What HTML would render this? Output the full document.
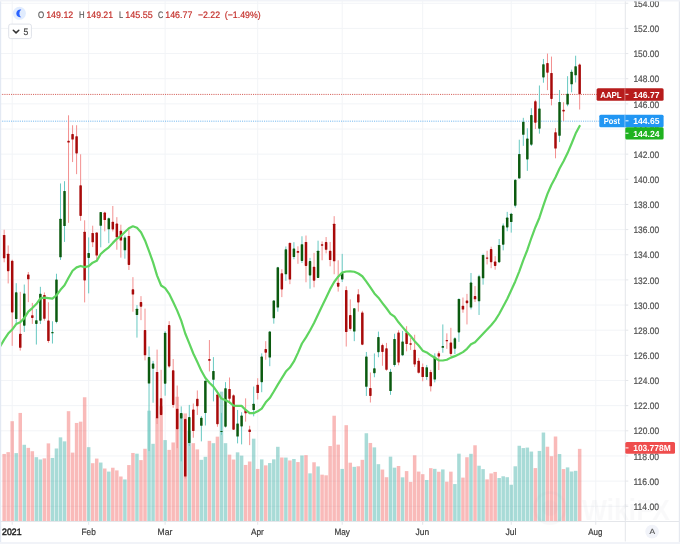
<!DOCTYPE html>
<html><head><meta charset="utf-8"><title>AAPL chart</title>
<style>html,body{margin:0;padding:0;background:#fff}body{width:680px;height:544px;overflow:hidden}svg{will-change:transform}</style></head>
<body>
<svg width="680" height="544" viewBox="0 0 680 544" style="display:block;font-family:'Liberation Sans', 'DejaVu Sans', sans-serif">
<rect width="680" height="544" fill="#ffffff"/>
<g stroke="#f2f4f7" stroke-width="1">
<line x1="0" y1="506.25" x2="625.3" y2="506.25"/>
<line x1="0" y1="481.10" x2="625.3" y2="481.10"/>
<line x1="0" y1="455.95" x2="625.3" y2="455.95"/>
<line x1="0" y1="430.80" x2="625.3" y2="430.80"/>
<line x1="0" y1="405.65" x2="625.3" y2="405.65"/>
<line x1="0" y1="380.50" x2="625.3" y2="380.50"/>
<line x1="0" y1="355.35" x2="625.3" y2="355.35"/>
<line x1="0" y1="330.20" x2="625.3" y2="330.20"/>
<line x1="0" y1="305.05" x2="625.3" y2="305.05"/>
<line x1="0" y1="279.90" x2="625.3" y2="279.90"/>
<line x1="0" y1="254.75" x2="625.3" y2="254.75"/>
<line x1="0" y1="229.60" x2="625.3" y2="229.60"/>
<line x1="0" y1="204.45" x2="625.3" y2="204.45"/>
<line x1="0" y1="179.30" x2="625.3" y2="179.30"/>
<line x1="0" y1="154.15" x2="625.3" y2="154.15"/>
<line x1="0" y1="129.00" x2="625.3" y2="129.00"/>
<line x1="0" y1="103.85" x2="625.3" y2="103.85"/>
<line x1="0" y1="78.70" x2="625.3" y2="78.70"/>
<line x1="0" y1="53.55" x2="625.3" y2="53.55"/>
<line x1="0" y1="28.40" x2="625.3" y2="28.40"/>
<line x1="0" y1="3.25" x2="625.3" y2="3.25"/>
<line x1="12.20" y1="0" x2="12.20" y2="521.5"/>
<line x1="88.67" y1="0" x2="88.67" y2="521.5"/>
<line x1="165.13" y1="0" x2="165.13" y2="521.5"/>
<line x1="257.69" y1="0" x2="257.69" y2="521.5"/>
<line x1="342.21" y1="0" x2="342.21" y2="521.5"/>
<line x1="422.70" y1="0" x2="422.70" y2="521.5"/>
<line x1="511.24" y1="0" x2="511.24" y2="521.5"/>
<line x1="595.75" y1="0" x2="595.75" y2="521.5"/>
</g>
<g>
<rect x="2.40" y="453.95" width="3.5" height="67.55" fill="rgba(239,83,80,0.4)"/>
<rect x="6.43" y="452.13" width="3.5" height="69.37" fill="rgba(239,83,80,0.4)"/>
<rect x="10.45" y="421.19" width="3.5" height="100.31" fill="rgba(239,83,80,0.4)"/>
<rect x="14.47" y="453.11" width="3.5" height="68.39" fill="rgba(38,166,154,0.4)"/>
<rect x="18.50" y="412.93" width="3.5" height="108.57" fill="rgba(239,83,80,0.4)"/>
<rect x="22.52" y="444.78" width="3.5" height="76.72" fill="rgba(38,166,154,0.4)"/>
<rect x="26.55" y="447.86" width="3.5" height="73.64" fill="rgba(239,83,80,0.4)"/>
<rect x="30.57" y="451.22" width="3.5" height="70.28" fill="rgba(239,83,80,0.4)"/>
<rect x="34.60" y="457.17" width="3.5" height="64.33" fill="rgba(38,166,154,0.4)"/>
<rect x="38.62" y="459.48" width="3.5" height="62.02" fill="rgba(38,166,154,0.4)"/>
<rect x="42.65" y="458.36" width="3.5" height="63.14" fill="rgba(239,83,80,0.4)"/>
<rect x="46.67" y="443.38" width="3.5" height="78.12" fill="rgba(239,83,80,0.4)"/>
<rect x="50.69" y="457.94" width="3.5" height="63.56" fill="rgba(38,166,154,0.4)"/>
<rect x="54.72" y="448.49" width="3.5" height="73.01" fill="rgba(38,166,154,0.4)"/>
<rect x="58.74" y="437.36" width="3.5" height="84.14" fill="rgba(38,166,154,0.4)"/>
<rect x="62.77" y="441.35" width="3.5" height="80.15" fill="rgba(38,166,154,0.4)"/>
<rect x="66.79" y="411.18" width="3.5" height="110.32" fill="rgba(239,83,80,0.4)"/>
<rect x="70.82" y="452.62" width="3.5" height="68.88" fill="rgba(239,83,80,0.4)"/>
<rect x="74.84" y="422.94" width="3.5" height="98.56" fill="rgba(239,83,80,0.4)"/>
<rect x="78.87" y="421.68" width="3.5" height="99.82" fill="rgba(239,83,80,0.4)"/>
<rect x="82.89" y="397.25" width="3.5" height="124.25" fill="rgba(239,83,80,0.4)"/>
<rect x="86.92" y="447.16" width="3.5" height="74.34" fill="rgba(38,166,154,0.4)"/>
<rect x="90.94" y="463.19" width="3.5" height="58.31" fill="rgba(239,83,80,0.4)"/>
<rect x="94.96" y="458.57" width="3.5" height="62.93" fill="rgba(239,83,80,0.4)"/>
<rect x="98.99" y="462.56" width="3.5" height="58.94" fill="rgba(38,166,154,0.4)"/>
<rect x="103.01" y="468.51" width="3.5" height="52.99" fill="rgba(239,83,80,0.4)"/>
<rect x="107.04" y="471.59" width="3.5" height="49.91" fill="rgba(38,166,154,0.4)"/>
<rect x="111.06" y="467.74" width="3.5" height="53.76" fill="rgba(239,83,80,0.4)"/>
<rect x="115.09" y="470.40" width="3.5" height="51.10" fill="rgba(239,83,80,0.4)"/>
<rect x="119.11" y="476.49" width="3.5" height="45.01" fill="rgba(239,83,80,0.4)"/>
<rect x="123.14" y="479.43" width="3.5" height="42.07" fill="rgba(38,166,154,0.4)"/>
<rect x="127.16" y="465.08" width="3.5" height="56.42" fill="rgba(239,83,80,0.4)"/>
<rect x="131.18" y="452.97" width="3.5" height="68.53" fill="rgba(239,83,80,0.4)"/>
<rect x="135.21" y="453.67" width="3.5" height="67.83" fill="rgba(38,166,154,0.4)"/>
<rect x="139.23" y="460.11" width="3.5" height="61.39" fill="rgba(239,83,80,0.4)"/>
<rect x="143.26" y="448.77" width="3.5" height="72.73" fill="rgba(239,83,80,0.4)"/>
<rect x="147.28" y="410.69" width="3.5" height="110.81" fill="rgba(38,166,154,0.4)"/>
<rect x="151.31" y="443.80" width="3.5" height="77.70" fill="rgba(38,166,154,0.4)"/>
<rect x="155.33" y="417.76" width="3.5" height="103.74" fill="rgba(239,83,80,0.4)"/>
<rect x="159.36" y="406.28" width="3.5" height="115.22" fill="rgba(239,83,80,0.4)"/>
<rect x="163.38" y="440.09" width="3.5" height="81.41" fill="rgba(38,166,154,0.4)"/>
<rect x="167.41" y="449.89" width="3.5" height="71.61" fill="rgba(239,83,80,0.4)"/>
<rect x="171.43" y="442.47" width="3.5" height="79.03" fill="rgba(239,83,80,0.4)"/>
<rect x="175.45" y="396.76" width="3.5" height="124.74" fill="rgba(239,83,80,0.4)"/>
<rect x="179.48" y="413.84" width="3.5" height="107.66" fill="rgba(38,166,154,0.4)"/>
<rect x="183.50" y="413.42" width="3.5" height="108.08" fill="rgba(239,83,80,0.4)"/>
<rect x="187.53" y="430.85" width="3.5" height="90.65" fill="rgba(38,166,154,0.4)"/>
<rect x="191.55" y="443.17" width="3.5" height="78.33" fill="rgba(239,83,80,0.4)"/>
<rect x="195.58" y="449.40" width="3.5" height="72.10" fill="rgba(239,83,80,0.4)"/>
<rect x="199.60" y="459.83" width="3.5" height="61.67" fill="rgba(38,166,154,0.4)"/>
<rect x="203.63" y="456.82" width="3.5" height="64.68" fill="rgba(38,166,154,0.4)"/>
<rect x="207.65" y="440.86" width="3.5" height="80.64" fill="rgba(239,83,80,0.4)"/>
<rect x="211.67" y="443.17" width="3.5" height="78.33" fill="rgba(38,166,154,0.4)"/>
<rect x="215.70" y="436.66" width="3.5" height="84.84" fill="rgba(239,83,80,0.4)"/>
<rect x="219.72" y="391.65" width="3.5" height="129.85" fill="rgba(38,166,154,0.4)"/>
<rect x="223.75" y="443.17" width="3.5" height="78.33" fill="rgba(38,166,154,0.4)"/>
<rect x="227.77" y="454.65" width="3.5" height="66.85" fill="rgba(239,83,80,0.4)"/>
<rect x="231.80" y="459.55" width="3.5" height="61.95" fill="rgba(239,83,80,0.4)"/>
<rect x="235.82" y="452.34" width="3.5" height="69.16" fill="rgba(38,166,154,0.4)"/>
<rect x="239.85" y="455.63" width="3.5" height="65.87" fill="rgba(38,166,154,0.4)"/>
<rect x="243.87" y="464.94" width="3.5" height="56.56" fill="rgba(239,83,80,0.4)"/>
<rect x="247.90" y="461.51" width="3.5" height="59.99" fill="rgba(239,83,80,0.4)"/>
<rect x="251.92" y="438.69" width="3.5" height="82.81" fill="rgba(38,166,154,0.4)"/>
<rect x="255.94" y="468.93" width="3.5" height="52.57" fill="rgba(239,83,80,0.4)"/>
<rect x="259.97" y="459.41" width="3.5" height="62.09" fill="rgba(38,166,154,0.4)"/>
<rect x="263.99" y="465.36" width="3.5" height="56.14" fill="rgba(239,83,80,0.4)"/>
<rect x="268.02" y="463.05" width="3.5" height="58.45" fill="rgba(38,166,154,0.4)"/>
<rect x="272.04" y="459.34" width="3.5" height="62.16" fill="rgba(38,166,154,0.4)"/>
<rect x="276.07" y="446.81" width="3.5" height="74.69" fill="rgba(38,166,154,0.4)"/>
<rect x="280.09" y="457.52" width="3.5" height="63.98" fill="rgba(239,83,80,0.4)"/>
<rect x="284.12" y="457.59" width="3.5" height="63.91" fill="rgba(38,166,154,0.4)"/>
<rect x="288.14" y="460.46" width="3.5" height="61.04" fill="rgba(239,83,80,0.4)"/>
<rect x="292.16" y="458.99" width="3.5" height="62.51" fill="rgba(38,166,154,0.4)"/>
<rect x="296.19" y="462.07" width="3.5" height="59.43" fill="rgba(239,83,80,0.4)"/>
<rect x="300.21" y="455.49" width="3.5" height="66.01" fill="rgba(38,166,154,0.4)"/>
<rect x="304.24" y="455.14" width="3.5" height="66.36" fill="rgba(239,83,80,0.4)"/>
<rect x="308.26" y="473.34" width="3.5" height="48.16" fill="rgba(38,166,154,0.4)"/>
<rect x="312.29" y="462.28" width="3.5" height="59.22" fill="rgba(239,83,80,0.4)"/>
<rect x="316.31" y="466.41" width="3.5" height="55.09" fill="rgba(38,166,154,0.4)"/>
<rect x="320.34" y="474.67" width="3.5" height="46.83" fill="rgba(239,83,80,0.4)"/>
<rect x="324.36" y="475.30" width="3.5" height="46.20" fill="rgba(239,83,80,0.4)"/>
<rect x="328.39" y="446.04" width="3.5" height="75.46" fill="rgba(239,83,80,0.4)"/>
<rect x="332.41" y="415.73" width="3.5" height="105.77" fill="rgba(239,83,80,0.4)"/>
<rect x="336.43" y="444.64" width="3.5" height="76.86" fill="rgba(239,83,80,0.4)"/>
<rect x="340.46" y="468.93" width="3.5" height="52.57" fill="rgba(38,166,154,0.4)"/>
<rect x="344.48" y="425.18" width="3.5" height="96.32" fill="rgba(239,83,80,0.4)"/>
<rect x="348.51" y="462.70" width="3.5" height="58.80" fill="rgba(239,83,80,0.4)"/>
<rect x="352.53" y="466.83" width="3.5" height="54.67" fill="rgba(38,166,154,0.4)"/>
<rect x="356.56" y="466.27" width="3.5" height="55.23" fill="rgba(239,83,80,0.4)"/>
<rect x="360.58" y="459.83" width="3.5" height="61.67" fill="rgba(239,83,80,0.4)"/>
<rect x="364.61" y="433.23" width="3.5" height="88.27" fill="rgba(38,166,154,0.4)"/>
<rect x="368.63" y="442.96" width="3.5" height="78.54" fill="rgba(239,83,80,0.4)"/>
<rect x="372.65" y="447.37" width="3.5" height="74.13" fill="rgba(38,166,154,0.4)"/>
<rect x="376.68" y="464.17" width="3.5" height="57.33" fill="rgba(38,166,154,0.4)"/>
<rect x="380.70" y="469.56" width="3.5" height="51.94" fill="rgba(239,83,80,0.4)"/>
<rect x="384.73" y="477.19" width="3.5" height="44.31" fill="rgba(239,83,80,0.4)"/>
<rect x="388.75" y="456.68" width="3.5" height="64.82" fill="rgba(38,166,154,0.4)"/>
<rect x="392.78" y="467.67" width="3.5" height="53.83" fill="rgba(38,166,154,0.4)"/>
<rect x="396.80" y="465.99" width="3.5" height="55.51" fill="rgba(239,83,80,0.4)"/>
<rect x="400.83" y="477.33" width="3.5" height="44.17" fill="rgba(38,166,154,0.4)"/>
<rect x="404.85" y="471.10" width="3.5" height="50.40" fill="rgba(239,83,80,0.4)"/>
<rect x="408.88" y="481.88" width="3.5" height="39.62" fill="rgba(239,83,80,0.4)"/>
<rect x="412.90" y="455.28" width="3.5" height="66.22" fill="rgba(239,83,80,0.4)"/>
<rect x="416.92" y="471.59" width="3.5" height="49.91" fill="rgba(239,83,80,0.4)"/>
<rect x="420.95" y="474.18" width="3.5" height="47.32" fill="rgba(239,83,80,0.4)"/>
<rect x="424.97" y="479.99" width="3.5" height="41.51" fill="rgba(38,166,154,0.4)"/>
<rect x="429.00" y="468.16" width="3.5" height="53.34" fill="rgba(239,83,80,0.4)"/>
<rect x="433.02" y="468.86" width="3.5" height="52.64" fill="rgba(38,166,154,0.4)"/>
<rect x="437.05" y="471.73" width="3.5" height="49.77" fill="rgba(239,83,80,0.4)"/>
<rect x="441.07" y="469.42" width="3.5" height="52.08" fill="rgba(38,166,154,0.4)"/>
<rect x="445.10" y="481.67" width="3.5" height="39.83" fill="rgba(239,83,80,0.4)"/>
<rect x="449.12" y="471.66" width="3.5" height="49.84" fill="rgba(239,83,80,0.4)"/>
<rect x="453.14" y="484.05" width="3.5" height="37.45" fill="rgba(38,166,154,0.4)"/>
<rect x="457.17" y="453.67" width="3.5" height="67.83" fill="rgba(38,166,154,0.4)"/>
<rect x="461.19" y="477.61" width="3.5" height="43.89" fill="rgba(239,83,80,0.4)"/>
<rect x="465.22" y="457.24" width="3.5" height="64.26" fill="rgba(239,83,80,0.4)"/>
<rect x="469.24" y="453.81" width="3.5" height="67.69" fill="rgba(38,166,154,0.4)"/>
<rect x="473.27" y="445.27" width="3.5" height="76.23" fill="rgba(239,83,80,0.4)"/>
<rect x="477.29" y="465.71" width="3.5" height="55.79" fill="rgba(38,166,154,0.4)"/>
<rect x="481.32" y="469.14" width="3.5" height="52.36" fill="rgba(38,166,154,0.4)"/>
<rect x="485.34" y="479.36" width="3.5" height="42.14" fill="rgba(239,83,80,0.4)"/>
<rect x="489.37" y="473.41" width="3.5" height="48.09" fill="rgba(239,83,80,0.4)"/>
<rect x="493.39" y="471.94" width="3.5" height="49.56" fill="rgba(239,83,80,0.4)"/>
<rect x="497.41" y="478.03" width="3.5" height="43.47" fill="rgba(38,166,154,0.4)"/>
<rect x="501.44" y="476.28" width="3.5" height="45.22" fill="rgba(38,166,154,0.4)"/>
<rect x="505.46" y="477.19" width="3.5" height="44.31" fill="rgba(38,166,154,0.4)"/>
<rect x="509.49" y="484.75" width="3.5" height="36.75" fill="rgba(38,166,154,0.4)"/>
<rect x="513.51" y="466.27" width="3.5" height="55.23" fill="rgba(38,166,154,0.4)"/>
<rect x="517.54" y="445.76" width="3.5" height="75.74" fill="rgba(38,166,154,0.4)"/>
<rect x="521.56" y="448.07" width="3.5" height="73.43" fill="rgba(38,166,154,0.4)"/>
<rect x="525.59" y="447.58" width="3.5" height="73.92" fill="rgba(38,166,154,0.4)"/>
<rect x="529.61" y="451.57" width="3.5" height="69.93" fill="rgba(38,166,154,0.4)"/>
<rect x="533.63" y="468.09" width="3.5" height="53.41" fill="rgba(239,83,80,0.4)"/>
<rect x="537.66" y="450.94" width="3.5" height="70.56" fill="rgba(38,166,154,0.4)"/>
<rect x="541.68" y="432.53" width="3.5" height="88.97" fill="rgba(38,166,154,0.4)"/>
<rect x="545.71" y="446.74" width="3.5" height="74.76" fill="rgba(239,83,80,0.4)"/>
<rect x="549.73" y="456.19" width="3.5" height="65.31" fill="rgba(239,83,80,0.4)"/>
<rect x="553.76" y="436.52" width="3.5" height="84.98" fill="rgba(239,83,80,0.4)"/>
<rect x="557.78" y="454.02" width="3.5" height="67.48" fill="rgba(38,166,154,0.4)"/>
<rect x="561.81" y="469.07" width="3.5" height="52.43" fill="rgba(239,83,80,0.4)"/>
<rect x="565.83" y="467.39" width="3.5" height="54.11" fill="rgba(38,166,154,0.4)"/>
<rect x="569.86" y="471.52" width="3.5" height="49.98" fill="rgba(38,166,154,0.4)"/>
<rect x="573.88" y="470.82" width="3.5" height="50.68" fill="rgba(38,166,154,0.4)"/>
<rect x="577.90" y="448.86" width="3.5" height="72.64" fill="rgba(239,83,80,0.4)"/>
</g>
<line x1="0" y1="94.42" x2="625.3" y2="94.42" stroke="#d4605a" stroke-width="1" stroke-dasharray="1.1 1.1"/>
<line x1="0" y1="121.18" x2="625.3" y2="121.18" stroke="#74b8ef" stroke-width="1" stroke-dasharray="1.1 1.1"/>
<g>
<rect x="3.65" y="229.73" width="1" height="32.57" fill="#f39090"/>
<rect x="2.90" y="234.88" width="2.5" height="23.39" rx="0.6" fill="#a80a0a"/>
<rect x="7.68" y="245.44" width="1" height="37.98" fill="#f39090"/>
<rect x="6.93" y="253.74" width="2.5" height="17.48" rx="0.6" fill="#a80a0a"/>
<rect x="11.70" y="259.65" width="1" height="86.14" fill="#f39090"/>
<rect x="10.95" y="260.79" width="2.5" height="51.68" rx="0.6" fill="#a80a0a"/>
<rect x="15.72" y="283.17" width="1" height="41.62" fill="#68c9c2"/>
<rect x="14.97" y="292.35" width="2.5" height="26.66" rx="0.6" fill="#0b5a0f"/>
<rect x="19.75" y="291.85" width="1" height="58.73" fill="#f39090"/>
<rect x="19.00" y="333.72" width="2.5" height="14.08" rx="0.6" fill="#a80a0a"/>
<rect x="23.77" y="284.55" width="1" height="47.41" fill="#68c9c2"/>
<rect x="23.02" y="293.48" width="2.5" height="32.19" rx="0.6" fill="#0b5a0f"/>
<rect x="27.80" y="271.98" width="1" height="30.18" fill="#f39090"/>
<rect x="27.05" y="274.49" width="2.5" height="4.78" rx="0.6" fill="#a80a0a"/>
<rect x="31.82" y="302.91" width="1" height="21.00" fill="#f39090"/>
<rect x="31.07" y="315.24" width="2.5" height="2.64" rx="0.6" fill="#a80a0a"/>
<rect x="35.85" y="308.95" width="1" height="35.59" fill="#68c9c2"/>
<rect x="35.10" y="320.14" width="2.5" height="3.77" rx="0.6" fill="#0b5a0f"/>
<rect x="39.87" y="286.82" width="1" height="37.22" fill="#68c9c2"/>
<rect x="39.12" y="293.86" width="2.5" height="26.78" rx="0.6" fill="#0b5a0f"/>
<rect x="43.90" y="292.47" width="1" height="28.17" fill="#f39090"/>
<rect x="43.15" y="294.99" width="2.5" height="23.77" rx="0.6" fill="#a80a0a"/>
<rect x="47.92" y="302.28" width="1" height="40.49" fill="#f39090"/>
<rect x="47.17" y="320.39" width="2.5" height="20.62" rx="0.6" fill="#a80a0a"/>
<rect x="51.94" y="321.27" width="1" height="22.26" fill="#68c9c2"/>
<rect x="51.19" y="332.10" width="2.5" height="1.10" rx="0.6" fill="#0b5a0f"/>
<rect x="55.97" y="273.74" width="1" height="49.55" fill="#68c9c2"/>
<rect x="55.22" y="279.52" width="2.5" height="42.38" rx="0.6" fill="#0b5a0f"/>
<rect x="59.99" y="183.45" width="1" height="76.46" fill="#68c9c2"/>
<rect x="59.24" y="218.66" width="2.5" height="38.61" rx="0.6" fill="#0b5a0f"/>
<rect x="64.02" y="181.19" width="1" height="60.74" fill="#68c9c2"/>
<rect x="63.27" y="190.99" width="2.5" height="35.08" rx="0.6" fill="#0b5a0f"/>
<rect x="68.04" y="115.29" width="1" height="107.52" fill="#f39090"/>
<rect x="67.29" y="140.69" width="2.5" height="1.89" rx="0.6" fill="#a80a0a"/>
<rect x="72.07" y="125.23" width="1" height="36.84" fill="#f39090"/>
<rect x="71.32" y="134.03" width="2.5" height="5.53" rx="0.6" fill="#a80a0a"/>
<rect x="76.09" y="125.23" width="1" height="48.92" fill="#f39090"/>
<rect x="75.34" y="136.17" width="2.5" height="17.23" rx="0.6" fill="#a80a0a"/>
<rect x="80.12" y="154.28" width="1" height="66.52" fill="#f39090"/>
<rect x="79.37" y="185.34" width="2.5" height="30.56" rx="0.6" fill="#a80a0a"/>
<rect x="84.14" y="220.29" width="1" height="82.11" fill="#f39090"/>
<rect x="83.39" y="231.74" width="2.5" height="48.67" rx="0.6" fill="#a80a0a"/>
<rect x="88.17" y="237.40" width="1" height="55.96" fill="#68c9c2"/>
<rect x="87.42" y="252.99" width="2.5" height="4.90" rx="0.6" fill="#0b5a0f"/>
<rect x="92.19" y="225.70" width="1" height="21.38" fill="#f39090"/>
<rect x="91.44" y="233.00" width="2.5" height="9.31" rx="0.6" fill="#a80a0a"/>
<rect x="96.21" y="232.49" width="1" height="27.16" fill="#f39090"/>
<rect x="95.46" y="232.62" width="2.5" height="22.89" rx="0.6" fill="#a80a0a"/>
<rect x="100.24" y="211.99" width="1" height="35.34" fill="#68c9c2"/>
<rect x="99.49" y="212.12" width="2.5" height="13.71" rx="0.6" fill="#0b5a0f"/>
<rect x="104.26" y="211.74" width="1" height="19.62" fill="#f39090"/>
<rect x="103.51" y="212.62" width="2.5" height="7.42" rx="0.6" fill="#a80a0a"/>
<rect x="108.29" y="217.53" width="1" height="25.65" fill="#68c9c2"/>
<rect x="107.54" y="218.16" width="2.5" height="11.07" rx="0.6" fill="#0b5a0f"/>
<rect x="112.31" y="205.96" width="1" height="25.53" fill="#f39090"/>
<rect x="111.56" y="221.80" width="2.5" height="7.67" rx="0.6" fill="#a80a0a"/>
<rect x="116.34" y="217.15" width="1" height="32.57" fill="#f39090"/>
<rect x="115.59" y="223.56" width="2.5" height="13.71" rx="0.6" fill="#a80a0a"/>
<rect x="120.36" y="224.70" width="1" height="32.95" fill="#f39090"/>
<rect x="119.61" y="230.86" width="2.5" height="9.68" rx="0.6" fill="#a80a0a"/>
<rect x="124.39" y="235.51" width="1" height="23.14" fill="#68c9c2"/>
<rect x="123.64" y="237.52" width="2.5" height="12.83" rx="0.6" fill="#0b5a0f"/>
<rect x="128.41" y="229.47" width="1" height="40.49" fill="#f39090"/>
<rect x="127.66" y="236.01" width="2.5" height="28.92" rx="0.6" fill="#a80a0a"/>
<rect x="132.43" y="277.13" width="1" height="34.58" fill="#f39090"/>
<rect x="131.68" y="289.33" width="2.5" height="5.16" rx="0.6" fill="#a80a0a"/>
<rect x="136.46" y="305.05" width="1" height="32.57" fill="#68c9c2"/>
<rect x="135.71" y="308.70" width="2.5" height="6.41" rx="0.6" fill="#0b5a0f"/>
<rect x="140.48" y="296.12" width="1" height="24.02" fill="#f39090"/>
<rect x="139.73" y="302.03" width="2.5" height="4.65" rx="0.6" fill="#a80a0a"/>
<rect x="144.51" y="308.57" width="1" height="51.81" fill="#f39090"/>
<rect x="143.76" y="330.07" width="2.5" height="25.28" rx="0.6" fill="#a80a0a"/>
<rect x="148.53" y="346.42" width="1" height="104.62" fill="#68c9c2"/>
<rect x="147.78" y="357.11" width="2.5" height="26.41" rx="0.6" fill="#0b5a0f"/>
<rect x="152.56" y="360.88" width="1" height="41.87" fill="#68c9c2"/>
<rect x="151.81" y="363.52" width="2.5" height="5.16" rx="0.6" fill="#0b5a0f"/>
<rect x="156.58" y="349.57" width="1" height="74.44" fill="#f39090"/>
<rect x="155.83" y="371.95" width="2.5" height="46.40" rx="0.6" fill="#a80a0a"/>
<rect x="160.61" y="369.81" width="1" height="45.90" fill="#f39090"/>
<rect x="159.86" y="398.23" width="2.5" height="16.72" rx="0.6" fill="#a80a0a"/>
<rect x="164.63" y="331.08" width="1" height="64.64" fill="#68c9c2"/>
<rect x="163.88" y="332.84" width="2.5" height="50.80" rx="0.6" fill="#0b5a0f"/>
<rect x="168.66" y="321.15" width="1" height="46.65" fill="#f39090"/>
<rect x="167.91" y="325.04" width="2.5" height="41.37" rx="0.6" fill="#a80a0a"/>
<rect x="172.68" y="359.00" width="1" height="48.67" fill="#f39090"/>
<rect x="171.93" y="370.31" width="2.5" height="34.58" rx="0.6" fill="#a80a0a"/>
<rect x="176.70" y="385.53" width="1" height="62.62" fill="#f39090"/>
<rect x="175.95" y="408.79" width="2.5" height="20.37" rx="0.6" fill="#a80a0a"/>
<rect x="180.73" y="406.40" width="1" height="54.95" fill="#68c9c2"/>
<rect x="179.98" y="412.94" width="2.5" height="5.53" rx="0.6" fill="#0b5a0f"/>
<rect x="184.75" y="418.22" width="1" height="60.23" fill="#f39090"/>
<rect x="184.00" y="419.11" width="2.5" height="57.47" rx="0.6" fill="#a80a0a"/>
<rect x="188.78" y="404.90" width="1" height="41.12" fill="#68c9c2"/>
<rect x="188.03" y="417.09" width="2.5" height="25.90" rx="0.6" fill="#0b5a0f"/>
<rect x="192.80" y="403.51" width="1" height="34.20" fill="#f39090"/>
<rect x="192.05" y="409.55" width="2.5" height="21.50" rx="0.6" fill="#a80a0a"/>
<rect x="196.83" y="390.43" width="1" height="24.52" fill="#f39090"/>
<rect x="196.08" y="398.86" width="2.5" height="7.29" rx="0.6" fill="#a80a0a"/>
<rect x="200.85" y="416.09" width="1" height="25.28" fill="#68c9c2"/>
<rect x="200.10" y="417.85" width="2.5" height="7.92" rx="0.6" fill="#0b5a0f"/>
<rect x="204.88" y="380.50" width="1" height="45.02" fill="#68c9c2"/>
<rect x="204.13" y="380.63" width="2.5" height="32.44" rx="0.6" fill="#0b5a0f"/>
<rect x="208.90" y="340.01" width="1" height="31.44" fill="#f39090"/>
<rect x="208.15" y="359.12" width="2.5" height="1.63" rx="0.6" fill="#a80a0a"/>
<rect x="212.92" y="357.11" width="1" height="44.26" fill="#68c9c2"/>
<rect x="212.17" y="370.94" width="2.5" height="8.93" rx="0.6" fill="#0b5a0f"/>
<rect x="216.95" y="390.81" width="1" height="35.96" fill="#f39090"/>
<rect x="216.20" y="394.58" width="2.5" height="29.55" rx="0.6" fill="#a80a0a"/>
<rect x="220.97" y="412.82" width="1" height="22.01" fill="#68c9c2"/>
<rect x="220.22" y="430.93" width="2.5" height="1.13" rx="0.6" fill="#0b5a0f"/>
<rect x="225.00" y="382.13" width="1" height="45.40" fill="#68c9c2"/>
<rect x="224.25" y="388.17" width="2.5" height="38.48" rx="0.6" fill="#0b5a0f"/>
<rect x="229.02" y="377.48" width="1" height="26.41" fill="#f39090"/>
<rect x="228.27" y="388.93" width="2.5" height="9.93" rx="0.6" fill="#a80a0a"/>
<rect x="233.05" y="394.33" width="1" height="35.59" fill="#f39090"/>
<rect x="232.30" y="395.34" width="2.5" height="34.33" rx="0.6" fill="#a80a0a"/>
<rect x="237.07" y="409.93" width="1" height="33.45" fill="#68c9c2"/>
<rect x="236.32" y="423.38" width="2.5" height="13.20" rx="0.6" fill="#0b5a0f"/>
<rect x="241.10" y="412.19" width="1" height="32.19" fill="#68c9c2"/>
<rect x="240.35" y="415.58" width="2.5" height="10.81" rx="0.6" fill="#0b5a0f"/>
<rect x="245.12" y="398.36" width="1" height="23.26" fill="#f39090"/>
<rect x="244.37" y="410.05" width="2.5" height="3.27" rx="0.6" fill="#a80a0a"/>
<rect x="249.15" y="425.77" width="1" height="19.37" fill="#f39090"/>
<rect x="248.40" y="429.42" width="2.5" height="2.64" rx="0.6" fill="#a80a0a"/>
<rect x="253.17" y="386.54" width="1" height="29.80" fill="#68c9c2"/>
<rect x="252.42" y="403.76" width="2.5" height="6.29" rx="0.6" fill="#0b5a0f"/>
<rect x="257.19" y="378.24" width="1" height="21.25" fill="#f39090"/>
<rect x="256.44" y="384.78" width="2.5" height="8.30" rx="0.6" fill="#a80a0a"/>
<rect x="261.22" y="353.34" width="1" height="38.86" fill="#68c9c2"/>
<rect x="260.47" y="356.61" width="2.5" height="25.53" rx="0.6" fill="#0b5a0f"/>
<rect x="265.24" y="341.14" width="1" height="18.61" fill="#f39090"/>
<rect x="264.49" y="349.06" width="2.5" height="3.65" rx="0.6" fill="#a80a0a"/>
<rect x="269.27" y="331.21" width="1" height="34.96" fill="#68c9c2"/>
<rect x="268.52" y="331.46" width="2.5" height="26.03" rx="0.6" fill="#0b5a0f"/>
<rect x="273.29" y="300.15" width="1" height="23.52" fill="#68c9c2"/>
<rect x="272.54" y="300.52" width="2.5" height="17.73" rx="0.6" fill="#0b5a0f"/>
<rect x="277.32" y="266.82" width="1" height="44.89" fill="#68c9c2"/>
<rect x="276.57" y="267.32" width="2.5" height="40.24" rx="0.6" fill="#0b5a0f"/>
<rect x="281.34" y="269.21" width="1" height="27.92" fill="#f39090"/>
<rect x="280.59" y="273.36" width="2.5" height="16.10" rx="0.6" fill="#a80a0a"/>
<rect x="285.37" y="246.45" width="1" height="34.33" fill="#68c9c2"/>
<rect x="284.62" y="249.34" width="2.5" height="25.02" rx="0.6" fill="#0b5a0f"/>
<rect x="289.39" y="242.18" width="1" height="42.00" fill="#f39090"/>
<rect x="288.64" y="242.93" width="2.5" height="36.59" rx="0.6" fill="#a80a0a"/>
<rect x="293.41" y="242.18" width="1" height="17.10" fill="#68c9c2"/>
<rect x="292.66" y="248.46" width="2.5" height="8.55" rx="0.6" fill="#0b5a0f"/>
<rect x="297.44" y="246.32" width="1" height="17.48" fill="#f39090"/>
<rect x="296.69" y="250.98" width="2.5" height="1.76" rx="0.6" fill="#a80a0a"/>
<rect x="301.46" y="236.26" width="1" height="26.78" fill="#68c9c2"/>
<rect x="300.71" y="244.19" width="2.5" height="16.72" rx="0.6" fill="#0b5a0f"/>
<rect x="305.49" y="235.51" width="1" height="46.78" fill="#f39090"/>
<rect x="304.74" y="241.92" width="2.5" height="24.02" rx="0.6" fill="#a80a0a"/>
<rect x="309.51" y="257.89" width="1" height="30.81" fill="#68c9c2"/>
<rect x="308.76" y="261.04" width="2.5" height="14.34" rx="0.6" fill="#0b5a0f"/>
<rect x="313.54" y="252.86" width="1" height="34.46" fill="#f39090"/>
<rect x="312.79" y="266.82" width="2.5" height="13.83" rx="0.6" fill="#a80a0a"/>
<rect x="317.56" y="240.67" width="1" height="37.22" fill="#68c9c2"/>
<rect x="316.81" y="250.73" width="2.5" height="27.16" rx="0.6" fill="#0b5a0f"/>
<rect x="321.59" y="241.42" width="1" height="18.86" fill="#f39090"/>
<rect x="320.84" y="244.31" width="2.5" height="1.38" rx="0.6" fill="#a80a0a"/>
<rect x="325.61" y="237.02" width="1" height="16.35" fill="#f39090"/>
<rect x="324.86" y="242.05" width="2.5" height="7.80" rx="0.6" fill="#a80a0a"/>
<rect x="329.64" y="241.92" width="1" height="24.40" fill="#f39090"/>
<rect x="328.89" y="250.85" width="2.5" height="9.18" rx="0.6" fill="#a80a0a"/>
<rect x="333.66" y="216.14" width="1" height="58.10" fill="#f39090"/>
<rect x="332.91" y="223.69" width="2.5" height="37.60" rx="0.6" fill="#a80a0a"/>
<rect x="337.68" y="260.28" width="1" height="31.31" fill="#f39090"/>
<rect x="336.93" y="282.67" width="2.5" height="4.02" rx="0.6" fill="#a80a0a"/>
<rect x="341.71" y="253.87" width="1" height="28.17" fill="#68c9c2"/>
<rect x="340.96" y="273.11" width="2.5" height="6.29" rx="0.6" fill="#0b5a0f"/>
<rect x="345.73" y="286.31" width="1" height="60.23" fill="#f39090"/>
<rect x="344.98" y="290.09" width="2.5" height="42.00" rx="0.6" fill="#a80a0a"/>
<rect x="349.76" y="299.39" width="1" height="31.19" fill="#f39090"/>
<rect x="349.01" y="315.11" width="2.5" height="13.83" rx="0.6" fill="#a80a0a"/>
<rect x="353.78" y="308.19" width="1" height="32.95" fill="#68c9c2"/>
<rect x="353.03" y="308.32" width="2.5" height="23.26" rx="0.6" fill="#0b5a0f"/>
<rect x="357.81" y="289.21" width="1" height="22.38" fill="#f39090"/>
<rect x="357.06" y="294.36" width="2.5" height="8.05" rx="0.6" fill="#a80a0a"/>
<rect x="361.83" y="310.83" width="1" height="34.33" fill="#f39090"/>
<rect x="361.08" y="312.47" width="2.5" height="32.19" rx="0.6" fill="#a80a0a"/>
<rect x="365.86" y="351.95" width="1" height="44.01" fill="#68c9c2"/>
<rect x="365.11" y="356.48" width="2.5" height="30.31" rx="0.6" fill="#0b5a0f"/>
<rect x="369.88" y="372.45" width="1" height="30.05" fill="#f39090"/>
<rect x="369.13" y="388.04" width="2.5" height="7.92" rx="0.6" fill="#a80a0a"/>
<rect x="373.90" y="353.46" width="1" height="23.77" fill="#68c9c2"/>
<rect x="373.15" y="368.30" width="2.5" height="4.90" rx="0.6" fill="#0b5a0f"/>
<rect x="377.93" y="331.58" width="1" height="25.65" fill="#68c9c2"/>
<rect x="377.18" y="337.12" width="2.5" height="15.09" rx="0.6" fill="#0b5a0f"/>
<rect x="381.95" y="343.66" width="1" height="22.13" fill="#f39090"/>
<rect x="381.20" y="345.04" width="2.5" height="6.92" rx="0.6" fill="#a80a0a"/>
<rect x="385.98" y="342.90" width="1" height="27.79" fill="#f39090"/>
<rect x="385.23" y="348.31" width="2.5" height="21.50" rx="0.6" fill="#a80a0a"/>
<rect x="390.00" y="368.93" width="1" height="25.90" fill="#68c9c2"/>
<rect x="389.25" y="371.82" width="2.5" height="19.24" rx="0.6" fill="#0b5a0f"/>
<rect x="394.03" y="333.72" width="1" height="32.95" fill="#68c9c2"/>
<rect x="393.28" y="338.88" width="2.5" height="26.16" rx="0.6" fill="#0b5a0f"/>
<rect x="398.05" y="330.20" width="1" height="35.08" fill="#f39090"/>
<rect x="397.30" y="332.46" width="2.5" height="30.05" rx="0.6" fill="#a80a0a"/>
<rect x="402.08" y="330.95" width="1" height="25.15" fill="#68c9c2"/>
<rect x="401.33" y="341.52" width="2.5" height="13.71" rx="0.6" fill="#0b5a0f"/>
<rect x="406.10" y="326.18" width="1" height="25.15" fill="#f39090"/>
<rect x="405.35" y="332.46" width="2.5" height="11.57" rx="0.6" fill="#a80a0a"/>
<rect x="410.13" y="337.87" width="1" height="12.20" fill="#f39090"/>
<rect x="409.38" y="343.28" width="2.5" height="1.38" rx="0.6" fill="#a80a0a"/>
<rect x="414.15" y="334.73" width="1" height="32.19" fill="#f39090"/>
<rect x="413.40" y="349.82" width="2.5" height="14.59" rx="0.6" fill="#a80a0a"/>
<rect x="418.17" y="357.87" width="1" height="15.72" fill="#f39090"/>
<rect x="417.42" y="360.76" width="2.5" height="12.07" rx="0.6" fill="#a80a0a"/>
<rect x="422.20" y="363.52" width="1" height="17.73" fill="#f39090"/>
<rect x="421.45" y="366.92" width="2.5" height="10.06" rx="0.6" fill="#a80a0a"/>
<rect x="426.22" y="364.91" width="1" height="14.96" fill="#68c9c2"/>
<rect x="425.47" y="367.17" width="2.5" height="9.81" rx="0.6" fill="#0b5a0f"/>
<rect x="430.25" y="369.81" width="1" height="21.63" fill="#f39090"/>
<rect x="429.50" y="371.95" width="2.5" height="14.34" rx="0.6" fill="#a80a0a"/>
<rect x="434.27" y="353.34" width="1" height="29.05" fill="#68c9c2"/>
<rect x="433.52" y="356.73" width="2.5" height="22.89" rx="0.6" fill="#0b5a0f"/>
<rect x="438.30" y="351.33" width="1" height="18.74" fill="#f39090"/>
<rect x="437.55" y="353.21" width="2.5" height="3.40" rx="0.6" fill="#a80a0a"/>
<rect x="442.32" y="324.42" width="1" height="28.29" fill="#68c9c2"/>
<rect x="441.57" y="346.04" width="2.5" height="1.76" rx="0.6" fill="#0b5a0f"/>
<rect x="446.35" y="333.34" width="1" height="15.47" fill="#f39090"/>
<rect x="445.60" y="340.09" width="2.5" height="1.10" rx="0.6" fill="#a80a0a"/>
<rect x="450.37" y="327.81" width="1" height="28.29" fill="#f39090"/>
<rect x="449.62" y="342.52" width="2.5" height="11.44" rx="0.6" fill="#a80a0a"/>
<rect x="454.39" y="337.24" width="1" height="16.85" fill="#68c9c2"/>
<rect x="453.64" y="338.37" width="2.5" height="10.31" rx="0.6" fill="#0b5a0f"/>
<rect x="458.42" y="298.26" width="1" height="43.64" fill="#68c9c2"/>
<rect x="457.67" y="299.01" width="2.5" height="33.45" rx="0.6" fill="#0b5a0f"/>
<rect x="462.44" y="297.51" width="1" height="15.22" fill="#f39090"/>
<rect x="461.69" y="305.80" width="2.5" height="3.77" rx="0.6" fill="#a80a0a"/>
<rect x="466.47" y="293.86" width="1" height="30.56" fill="#f39090"/>
<rect x="465.72" y="300.40" width="2.5" height="2.77" rx="0.6" fill="#a80a0a"/>
<rect x="470.49" y="272.98" width="1" height="36.47" fill="#68c9c2"/>
<rect x="469.74" y="282.54" width="2.5" height="25.02" rx="0.6" fill="#0b5a0f"/>
<rect x="474.52" y="286.06" width="1" height="15.97" fill="#f39090"/>
<rect x="473.77" y="296.12" width="2.5" height="3.14" rx="0.6" fill="#a80a0a"/>
<rect x="478.54" y="274.74" width="1" height="40.24" fill="#68c9c2"/>
<rect x="477.79" y="276.13" width="2.5" height="25.15" rx="0.6" fill="#0b5a0f"/>
<rect x="482.57" y="253.74" width="1" height="30.93" fill="#68c9c2"/>
<rect x="481.82" y="255.00" width="2.5" height="23.26" rx="0.6" fill="#0b5a0f"/>
<rect x="486.59" y="250.73" width="1" height="13.71" fill="#f39090"/>
<rect x="485.84" y="257.53" width="2.5" height="1.10" rx="0.6" fill="#a80a0a"/>
<rect x="490.62" y="246.70" width="1" height="21.50" fill="#f39090"/>
<rect x="489.87" y="249.09" width="2.5" height="13.08" rx="0.6" fill="#a80a0a"/>
<rect x="494.64" y="256.13" width="1" height="13.58" fill="#f39090"/>
<rect x="493.89" y="261.54" width="2.5" height="4.40" rx="0.6" fill="#a80a0a"/>
<rect x="498.66" y="239.03" width="1" height="23.89" fill="#68c9c2"/>
<rect x="497.91" y="244.94" width="2.5" height="17.23" rx="0.6" fill="#0b5a0f"/>
<rect x="502.69" y="223.44" width="1" height="26.91" fill="#68c9c2"/>
<rect x="501.94" y="225.45" width="2.5" height="19.24" rx="0.6" fill="#0b5a0f"/>
<rect x="506.71" y="211.87" width="1" height="19.37" fill="#68c9c2"/>
<rect x="505.96" y="217.53" width="2.5" height="9.93" rx="0.6" fill="#0b5a0f"/>
<rect x="510.74" y="212.88" width="1" height="19.74" fill="#68c9c2"/>
<rect x="509.99" y="213.63" width="2.5" height="8.43" rx="0.6" fill="#0b5a0f"/>
<rect x="514.76" y="179.30" width="1" height="28.29" fill="#68c9c2"/>
<rect x="514.01" y="179.80" width="2.5" height="25.90" rx="0.6" fill="#0b5a0f"/>
<rect x="518.79" y="139.69" width="1" height="38.73" fill="#68c9c2"/>
<rect x="518.04" y="153.90" width="2.5" height="24.52" rx="0.6" fill="#0b5a0f"/>
<rect x="522.81" y="117.81" width="1" height="28.04" fill="#68c9c2"/>
<rect x="522.06" y="121.83" width="2.5" height="12.95" rx="0.6" fill="#0b5a0f"/>
<rect x="526.84" y="128.25" width="1" height="42.63" fill="#68c9c2"/>
<rect x="526.09" y="138.56" width="2.5" height="20.87" rx="0.6" fill="#0b5a0f"/>
<rect x="530.86" y="108.25" width="1" height="37.72" fill="#68c9c2"/>
<rect x="530.11" y="115.04" width="2.5" height="29.68" rx="0.6" fill="#0b5a0f"/>
<rect x="534.88" y="99.83" width="1" height="29.17" fill="#f39090"/>
<rect x="534.13" y="101.21" width="2.5" height="21.50" rx="0.6" fill="#a80a0a"/>
<rect x="538.91" y="85.49" width="1" height="48.16" fill="#68c9c2"/>
<rect x="538.16" y="108.38" width="2.5" height="20.25" rx="0.6" fill="#0b5a0f"/>
<rect x="542.93" y="58.96" width="1" height="23.77" fill="#68c9c2"/>
<rect x="542.18" y="64.24" width="2.5" height="13.20" rx="0.6" fill="#0b5a0f"/>
<rect x="546.96" y="53.55" width="1" height="36.59" fill="#f39090"/>
<rect x="546.21" y="63.11" width="2.5" height="9.56" rx="0.6" fill="#a80a0a"/>
<rect x="550.98" y="56.57" width="1" height="48.79" fill="#f39090"/>
<rect x="550.23" y="72.92" width="2.5" height="26.03" rx="0.6" fill="#a80a0a"/>
<rect x="555.01" y="128.12" width="1" height="30.18" fill="#f39090"/>
<rect x="554.26" y="132.14" width="2.5" height="16.35" rx="0.6" fill="#a80a0a"/>
<rect x="559.03" y="90.02" width="1" height="52.06" fill="#68c9c2"/>
<rect x="558.28" y="101.96" width="2.5" height="33.83" rx="0.6" fill="#0b5a0f"/>
<rect x="563.06" y="102.22" width="1" height="18.86" fill="#f39090"/>
<rect x="562.31" y="109.76" width="2.5" height="1.63" rx="0.6" fill="#a80a0a"/>
<rect x="567.08" y="76.19" width="1" height="30.05" fill="#68c9c2"/>
<rect x="566.33" y="93.79" width="2.5" height="10.81" rx="0.6" fill="#0b5a0f"/>
<rect x="571.11" y="69.65" width="1" height="22.64" fill="#68c9c2"/>
<rect x="570.36" y="71.66" width="2.5" height="12.70" rx="0.6" fill="#0b5a0f"/>
<rect x="575.13" y="55.69" width="1" height="26.78" fill="#68c9c2"/>
<rect x="574.38" y="66.25" width="2.5" height="9.05" rx="0.6" fill="#0b5a0f"/>
<rect x="579.15" y="63.48" width="1" height="46.02" fill="#f39090"/>
<rect x="578.40" y="64.62" width="2.5" height="29.55" rx="0.6" fill="#a80a0a"/>
</g>
<path d="M0.13,346.56 L4.15,339.64 L8.18,333.60 L12.20,329.53 L16.22,324.03 L20.25,322.23 L24.27,318.12 L28.30,311.66 L32.32,308.06 L36.35,304.04 L40.37,298.31 L44.40,297.66 L48.42,298.08 L52.44,298.63 L56.47,295.25 L60.49,289.82 L64.52,285.30 L68.54,277.78 L72.57,270.75 L76.59,267.37 L80.62,265.97 L84.64,267.08 L88.67,266.17 L92.69,262.66 L96.71,260.82 L100.74,254.03 L104.76,250.36 L108.79,247.31 L112.81,242.89 L116.84,238.74 L120.86,236.08 L124.89,232.01 L128.91,228.21 L132.93,226.32 L136.96,227.78 L140.98,232.18 L145.01,240.40 L149.03,251.12 L153.06,262.32 L157.08,275.57 L161.11,285.52 L165.13,288.14 L169.16,293.81 L173.18,301.94 L177.20,310.63 L181.23,320.67 L185.25,333.49 L189.28,343.44 L193.30,353.52 L197.33,361.96 L201.35,370.83 L205.38,377.98 L209.40,382.78 L213.42,386.60 L217.45,392.37 L221.47,398.58 L225.50,400.22 L229.52,402.31 L233.55,405.62 L237.57,405.87 L241.60,405.90 L245.62,409.93 L249.65,413.21 L253.67,413.15 L257.69,411.35 L261.72,408.53 L265.74,402.34 L269.77,398.05 L273.79,391.53 L277.82,384.59 L281.84,378.17 L285.87,371.60 L289.89,367.54 L293.91,361.42 L297.94,352.85 L301.96,343.51 L305.99,337.40 L310.01,330.51 L314.04,323.06 L318.06,314.42 L322.09,305.93 L326.11,297.76 L330.14,289.16 L334.16,282.03 L338.18,276.71 L342.21,272.54 L346.23,271.51 L350.26,271.38 L354.28,271.77 L358.31,273.52 L362.33,276.28 L366.36,281.64 L370.38,287.46 L374.40,293.46 L378.43,297.67 L382.45,303.06 L386.48,308.26 L390.50,313.80 L394.53,316.71 L398.55,322.30 L402.58,327.09 L406.60,331.80 L410.63,336.03 L414.65,341.18 L418.67,345.49 L422.70,350.68 L426.72,352.44 L430.75,355.31 L434.77,357.73 L438.80,360.44 L442.82,360.51 L446.85,359.74 L450.87,357.64 L454.89,356.14 L458.92,354.24 L462.94,352.12 L466.97,348.79 L470.99,344.32 L475.02,342.34 L479.04,338.02 L483.07,333.70 L487.09,329.42 L491.12,325.30 L495.14,320.37 L499.16,313.98 L503.19,306.40 L507.21,298.92 L511.24,290.29 L515.26,281.44 L519.29,271.30 L523.31,260.09 L527.34,249.97 L531.36,238.02 L535.38,227.24 L539.41,217.70 L543.43,205.44 L547.46,193.91 L551.48,184.73 L555.51,177.19 L559.53,168.49 L563.56,161.31 L567.58,153.07 L571.61,143.54 L575.63,133.56 L579.65,126.02" fill="none" stroke="#5fd45f" stroke-width="2.2" stroke-linejoin="round" stroke-linecap="round"/>
<rect x="625.3" y="0" width="54.700000000000045" height="544" fill="#fff"/>
<rect x="0" y="521.5" width="680" height="22.5" fill="#fff"/>
<line x1="625.3" y1="0" x2="625.3" y2="541.5" stroke="#e4e6ea"/>
<line x1="0" y1="521.5" x2="680" y2="521.5" stroke="#e4e6ea"/>
<rect x="0" y="542" width="680" height="2" fill="#f1f3f8"/>
<rect x="0" y="0" width="1.2" height="542" fill="#e3e9f3"/>
<rect x="678.8" y="0" width="1.2" height="542" fill="#e6e9f0"/>
<line x1="625.3" y1="506.25" x2="628.3" y2="506.25" stroke="#e4e6ea"/>
<text transform="translate(633.4,509.90) scale(1,0.780)" x="0" y="0" text-rendering="geometricPrecision" font-size="12" fill="#4f4f4f" font-weight="normal" text-anchor="start" textLength="25.7" lengthAdjust="spacingAndGlyphs" stroke="#4f4f4f" stroke-width="0.25">114.00</text>
<line x1="625.3" y1="481.10" x2="628.3" y2="481.10" stroke="#e4e6ea"/>
<text transform="translate(633.4,484.75) scale(1,0.780)" x="0" y="0" text-rendering="geometricPrecision" font-size="12" fill="#4f4f4f" font-weight="normal" text-anchor="start" textLength="25.7" lengthAdjust="spacingAndGlyphs" stroke="#4f4f4f" stroke-width="0.25">116.00</text>
<line x1="625.3" y1="455.95" x2="628.3" y2="455.95" stroke="#e4e6ea"/>
<text transform="translate(633.4,459.60) scale(1,0.780)" x="0" y="0" text-rendering="geometricPrecision" font-size="12" fill="#4f4f4f" font-weight="normal" text-anchor="start" textLength="25.7" lengthAdjust="spacingAndGlyphs" stroke="#4f4f4f" stroke-width="0.25">118.00</text>
<line x1="625.3" y1="430.80" x2="628.3" y2="430.80" stroke="#e4e6ea"/>
<text transform="translate(633.4,434.45) scale(1,0.780)" x="0" y="0" text-rendering="geometricPrecision" font-size="12" fill="#4f4f4f" font-weight="normal" text-anchor="start" textLength="25.7" lengthAdjust="spacingAndGlyphs" stroke="#4f4f4f" stroke-width="0.25">120.00</text>
<line x1="625.3" y1="405.65" x2="628.3" y2="405.65" stroke="#e4e6ea"/>
<text transform="translate(633.4,409.30) scale(1,0.780)" x="0" y="0" text-rendering="geometricPrecision" font-size="12" fill="#4f4f4f" font-weight="normal" text-anchor="start" textLength="25.7" lengthAdjust="spacingAndGlyphs" stroke="#4f4f4f" stroke-width="0.25">122.00</text>
<line x1="625.3" y1="380.50" x2="628.3" y2="380.50" stroke="#e4e6ea"/>
<text transform="translate(633.4,384.15) scale(1,0.780)" x="0" y="0" text-rendering="geometricPrecision" font-size="12" fill="#4f4f4f" font-weight="normal" text-anchor="start" textLength="25.7" lengthAdjust="spacingAndGlyphs" stroke="#4f4f4f" stroke-width="0.25">124.00</text>
<line x1="625.3" y1="355.35" x2="628.3" y2="355.35" stroke="#e4e6ea"/>
<text transform="translate(633.4,359.00) scale(1,0.780)" x="0" y="0" text-rendering="geometricPrecision" font-size="12" fill="#4f4f4f" font-weight="normal" text-anchor="start" textLength="25.7" lengthAdjust="spacingAndGlyphs" stroke="#4f4f4f" stroke-width="0.25">126.00</text>
<line x1="625.3" y1="330.20" x2="628.3" y2="330.20" stroke="#e4e6ea"/>
<text transform="translate(633.4,333.85) scale(1,0.780)" x="0" y="0" text-rendering="geometricPrecision" font-size="12" fill="#4f4f4f" font-weight="normal" text-anchor="start" textLength="25.7" lengthAdjust="spacingAndGlyphs" stroke="#4f4f4f" stroke-width="0.25">128.00</text>
<line x1="625.3" y1="305.05" x2="628.3" y2="305.05" stroke="#e4e6ea"/>
<text transform="translate(633.4,308.70) scale(1,0.780)" x="0" y="0" text-rendering="geometricPrecision" font-size="12" fill="#4f4f4f" font-weight="normal" text-anchor="start" textLength="25.7" lengthAdjust="spacingAndGlyphs" stroke="#4f4f4f" stroke-width="0.25">130.00</text>
<line x1="625.3" y1="279.90" x2="628.3" y2="279.90" stroke="#e4e6ea"/>
<text transform="translate(633.4,283.55) scale(1,0.780)" x="0" y="0" text-rendering="geometricPrecision" font-size="12" fill="#4f4f4f" font-weight="normal" text-anchor="start" textLength="25.7" lengthAdjust="spacingAndGlyphs" stroke="#4f4f4f" stroke-width="0.25">132.00</text>
<line x1="625.3" y1="254.75" x2="628.3" y2="254.75" stroke="#e4e6ea"/>
<text transform="translate(633.4,258.40) scale(1,0.780)" x="0" y="0" text-rendering="geometricPrecision" font-size="12" fill="#4f4f4f" font-weight="normal" text-anchor="start" textLength="25.7" lengthAdjust="spacingAndGlyphs" stroke="#4f4f4f" stroke-width="0.25">134.00</text>
<line x1="625.3" y1="229.60" x2="628.3" y2="229.60" stroke="#e4e6ea"/>
<text transform="translate(633.4,233.25) scale(1,0.780)" x="0" y="0" text-rendering="geometricPrecision" font-size="12" fill="#4f4f4f" font-weight="normal" text-anchor="start" textLength="25.7" lengthAdjust="spacingAndGlyphs" stroke="#4f4f4f" stroke-width="0.25">136.00</text>
<line x1="625.3" y1="204.45" x2="628.3" y2="204.45" stroke="#e4e6ea"/>
<text transform="translate(633.4,208.10) scale(1,0.780)" x="0" y="0" text-rendering="geometricPrecision" font-size="12" fill="#4f4f4f" font-weight="normal" text-anchor="start" textLength="25.7" lengthAdjust="spacingAndGlyphs" stroke="#4f4f4f" stroke-width="0.25">138.00</text>
<line x1="625.3" y1="179.30" x2="628.3" y2="179.30" stroke="#e4e6ea"/>
<text transform="translate(633.4,182.95) scale(1,0.780)" x="0" y="0" text-rendering="geometricPrecision" font-size="12" fill="#4f4f4f" font-weight="normal" text-anchor="start" textLength="25.7" lengthAdjust="spacingAndGlyphs" stroke="#4f4f4f" stroke-width="0.25">140.00</text>
<line x1="625.3" y1="154.15" x2="628.3" y2="154.15" stroke="#e4e6ea"/>
<text transform="translate(633.4,157.80) scale(1,0.780)" x="0" y="0" text-rendering="geometricPrecision" font-size="12" fill="#4f4f4f" font-weight="normal" text-anchor="start" textLength="25.7" lengthAdjust="spacingAndGlyphs" stroke="#4f4f4f" stroke-width="0.25">142.00</text>
<line x1="625.3" y1="129.00" x2="628.3" y2="129.00" stroke="#e4e6ea"/>
<text transform="translate(633.4,132.65) scale(1,0.780)" x="0" y="0" text-rendering="geometricPrecision" font-size="12" fill="#4f4f4f" font-weight="normal" text-anchor="start" textLength="25.7" lengthAdjust="spacingAndGlyphs" stroke="#4f4f4f" stroke-width="0.25">144.00</text>
<line x1="625.3" y1="103.85" x2="628.3" y2="103.85" stroke="#e4e6ea"/>
<text transform="translate(633.4,107.50) scale(1,0.780)" x="0" y="0" text-rendering="geometricPrecision" font-size="12" fill="#4f4f4f" font-weight="normal" text-anchor="start" textLength="25.7" lengthAdjust="spacingAndGlyphs" stroke="#4f4f4f" stroke-width="0.25">146.00</text>
<line x1="625.3" y1="78.70" x2="628.3" y2="78.70" stroke="#e4e6ea"/>
<text transform="translate(633.4,82.35) scale(1,0.780)" x="0" y="0" text-rendering="geometricPrecision" font-size="12" fill="#4f4f4f" font-weight="normal" text-anchor="start" textLength="25.7" lengthAdjust="spacingAndGlyphs" stroke="#4f4f4f" stroke-width="0.25">148.00</text>
<line x1="625.3" y1="53.55" x2="628.3" y2="53.55" stroke="#e4e6ea"/>
<text transform="translate(633.4,57.20) scale(1,0.780)" x="0" y="0" text-rendering="geometricPrecision" font-size="12" fill="#4f4f4f" font-weight="normal" text-anchor="start" textLength="25.7" lengthAdjust="spacingAndGlyphs" stroke="#4f4f4f" stroke-width="0.25">150.00</text>
<line x1="625.3" y1="28.40" x2="628.3" y2="28.40" stroke="#e4e6ea"/>
<text transform="translate(633.4,32.05) scale(1,0.780)" x="0" y="0" text-rendering="geometricPrecision" font-size="12" fill="#4f4f4f" font-weight="normal" text-anchor="start" textLength="25.7" lengthAdjust="spacingAndGlyphs" stroke="#4f4f4f" stroke-width="0.25">152.00</text>
<line x1="625.3" y1="3.25" x2="628.3" y2="3.25" stroke="#e4e6ea"/>
<text transform="translate(633.4,6.90) scale(1,0.780)" x="0" y="0" text-rendering="geometricPrecision" font-size="12" fill="#4f4f4f" font-weight="normal" text-anchor="start" textLength="25.7" lengthAdjust="spacingAndGlyphs" stroke="#4f4f4f" stroke-width="0.25">154.00</text>
<line x1="12.20" y1="521.5" x2="12.20" y2="524.8" stroke="#e4e6ea"/>
<line x1="88.67" y1="521.5" x2="88.67" y2="524.8" stroke="#e4e6ea"/>
<line x1="165.13" y1="521.5" x2="165.13" y2="524.8" stroke="#e4e6ea"/>
<line x1="257.69" y1="521.5" x2="257.69" y2="524.8" stroke="#e4e6ea"/>
<line x1="342.21" y1="521.5" x2="342.21" y2="524.8" stroke="#e4e6ea"/>
<line x1="422.70" y1="521.5" x2="422.70" y2="524.8" stroke="#e4e6ea"/>
<line x1="511.24" y1="521.5" x2="511.24" y2="524.8" stroke="#e4e6ea"/>
<line x1="595.75" y1="521.5" x2="595.75" y2="524.8" stroke="#e4e6ea"/>
<text transform="translate(2.1,534.50) scale(1,0.768)" x="0" y="0" text-rendering="geometricPrecision" font-size="12" fill="#222" font-weight="normal" text-anchor="start" textLength="19.4" lengthAdjust="spacingAndGlyphs" stroke="#222" stroke-width="0.6">2021</text>
<text transform="translate(81.5,534.50) scale(1,0.768)" x="0" y="0" text-rendering="geometricPrecision" font-size="12" fill="#3a3a3a" font-weight="normal" text-anchor="start" textLength="14.3" lengthAdjust="spacingAndGlyphs" stroke="#3a3a3a" stroke-width="0.25">Feb</text>
<text transform="translate(157.6,534.50) scale(1,0.768)" x="0" y="0" text-rendering="geometricPrecision" font-size="12" fill="#3a3a3a" font-weight="normal" text-anchor="start" textLength="14.8" lengthAdjust="spacingAndGlyphs" stroke="#3a3a3a" stroke-width="0.25">Mar</text>
<text transform="translate(250.9,534.50) scale(1,0.768)" x="0" y="0" text-rendering="geometricPrecision" font-size="12" fill="#3a3a3a" font-weight="normal" text-anchor="start" textLength="12.9" lengthAdjust="spacingAndGlyphs" stroke="#3a3a3a" stroke-width="0.25">Apr</text>
<text transform="translate(334.4,534.50) scale(1,0.768)" x="0" y="0" text-rendering="geometricPrecision" font-size="12" fill="#3a3a3a" font-weight="normal" text-anchor="start" textLength="15.4" lengthAdjust="spacingAndGlyphs" stroke="#3a3a3a" stroke-width="0.25">May</text>
<text transform="translate(415.5,534.50) scale(1,0.768)" x="0" y="0" text-rendering="geometricPrecision" font-size="12" fill="#3a3a3a" font-weight="normal" text-anchor="start" textLength="13.6" lengthAdjust="spacingAndGlyphs" stroke="#3a3a3a" stroke-width="0.25">Jun</text>
<text transform="translate(505.5,534.50) scale(1,0.768)" x="0" y="0" text-rendering="geometricPrecision" font-size="12" fill="#3a3a3a" font-weight="normal" text-anchor="start" textLength="11" lengthAdjust="spacingAndGlyphs" stroke="#3a3a3a" stroke-width="0.25">Jul</text>
<text transform="translate(588.2,534.50) scale(1,0.768)" x="0" y="0" text-rendering="geometricPrecision" font-size="12" fill="#3a3a3a" font-weight="normal" text-anchor="start" textLength="14.2" lengthAdjust="spacingAndGlyphs" stroke="#3a3a3a" stroke-width="0.25">Aug</text>
<rect x="596.6" y="88.22" width="67" height="12.5" rx="1.5" fill="#b71c1c"/>
<line x1="624.9" y1="88.22" x2="624.9" y2="100.72" stroke="#d88" stroke-width="0.8"/>
<line x1="625.5" y1="94.32" x2="628.5" y2="94.32" stroke="#fff" stroke-width="1"/>
<text transform="translate(600.2,97.82) scale(1,0.800)" x="0" y="0" text-rendering="geometricPrecision" font-size="11" fill="#fff" font-weight="bold" text-anchor="start" textLength="21.5" lengthAdjust="spacingAndGlyphs" stroke="#fff" stroke-width="0">AAPL</text>
<text transform="translate(633.2,97.82) scale(1,0.800)" x="0" y="0" text-rendering="geometricPrecision" font-size="11" fill="#fff" font-weight="bold" text-anchor="start" textLength="26.4" lengthAdjust="spacingAndGlyphs" stroke="#fff" stroke-width="0">146.77</text>
<rect x="599.3" y="114.73" width="64.3" height="12.4" rx="1.5" fill="#2196f3"/>
<line x1="624.9" y1="114.73" x2="624.9" y2="126.93" stroke="#9ccdf8" stroke-width="0.8"/>
<line x1="625.5" y1="120.83" x2="628.5" y2="120.83" stroke="#fff" stroke-width="1"/>
<text transform="translate(603.8,124.33) scale(1,0.800)" x="0" y="0" text-rendering="geometricPrecision" font-size="11" fill="#fff" font-weight="bold" text-anchor="start" textLength="16.2" lengthAdjust="spacingAndGlyphs" stroke="#fff" stroke-width="0">Post</text>
<text transform="translate(633.2,124.33) scale(1,0.800)" x="0" y="0" text-rendering="geometricPrecision" font-size="11" fill="#fff" font-weight="bold" text-anchor="start" textLength="26.4" lengthAdjust="spacingAndGlyphs" stroke="#fff" stroke-width="0">144.65</text>
<rect x="625.3" y="127.13" width="38.3" height="12.4" rx="1.5" fill="#1fb21f"/>
<line x1="625.5" y1="133.23" x2="628.5" y2="133.23" stroke="#fff" stroke-width="1"/>
<text transform="translate(633.2,136.73) scale(1,0.800)" x="0" y="0" text-rendering="geometricPrecision" font-size="11" fill="#fff" font-weight="bold" text-anchor="start" textLength="26.4" lengthAdjust="spacingAndGlyphs" stroke="#fff" stroke-width="0">144.24</text>
<rect x="625.3" y="441.9" width="49.7" height="11.9" rx="1.5" fill="#ef4d4d"/>
<line x1="625.5" y1="447.9" x2="628.5" y2="447.9" stroke="#fff" stroke-width="1"/>
<text transform="translate(633.2,451.20) scale(1,0.800)" x="0" y="0" text-rendering="geometricPrecision" font-size="11" fill="#fff" font-weight="bold" text-anchor="start" textLength="37.5" lengthAdjust="spacingAndGlyphs" stroke="#fff" stroke-width="0">103.778M</text>
<circle cx="19.4" cy="13.3" r="6.5" fill="#e1ecfe"/>
<path d="M21.3,9.6 A3.95,3.95 0 1 0 21.3,17.2 A4.7,4.7 0 0 1 21.3,9.6 Z" fill="#2962ff"/>
<text transform="translate(37.9,17.90) scale(1,0.780)" x="0" y="0" text-rendering="geometricPrecision" font-size="12" fill="#5a5a5a" font-weight="normal" text-anchor="start" textLength="6.2" lengthAdjust="spacingAndGlyphs" stroke="#5a5a5a" stroke-width="0.25">O</text>
<text transform="translate(46.2,17.90) scale(1,0.780)" x="0" y="0" text-rendering="geometricPrecision" font-size="12" fill="#c4302b" font-weight="normal" text-anchor="start" textLength="27" lengthAdjust="spacingAndGlyphs" stroke="#c4302b" stroke-width="0.25">149.12</text>
<text transform="translate(79.1,17.90) scale(1,0.780)" x="0" y="0" text-rendering="geometricPrecision" font-size="12" fill="#5a5a5a" font-weight="normal" text-anchor="start" textLength="5.6" lengthAdjust="spacingAndGlyphs" stroke="#5a5a5a" stroke-width="0.25">H</text>
<text transform="translate(86.5,17.90) scale(1,0.780)" x="0" y="0" text-rendering="geometricPrecision" font-size="12" fill="#c4302b" font-weight="normal" text-anchor="start" textLength="26.5" lengthAdjust="spacingAndGlyphs" stroke="#c4302b" stroke-width="0.25">149.21</text>
<text transform="translate(119.1,17.90) scale(1,0.780)" x="0" y="0" text-rendering="geometricPrecision" font-size="12" fill="#5a5a5a" font-weight="normal" text-anchor="start" textLength="4.2" lengthAdjust="spacingAndGlyphs" stroke="#5a5a5a" stroke-width="0.25">L</text>
<text transform="translate(125.3,17.90) scale(1,0.780)" x="0" y="0" text-rendering="geometricPrecision" font-size="12" fill="#c4302b" font-weight="normal" text-anchor="start" textLength="27.5" lengthAdjust="spacingAndGlyphs" stroke="#c4302b" stroke-width="0.25">145.55</text>
<text transform="translate(157.9,17.90) scale(1,0.780)" x="0" y="0" text-rendering="geometricPrecision" font-size="12" fill="#5a5a5a" font-weight="normal" text-anchor="start" textLength="5.3" lengthAdjust="spacingAndGlyphs" stroke="#5a5a5a" stroke-width="0.25">C</text>
<text transform="translate(165.3,17.90) scale(1,0.780)" x="0" y="0" text-rendering="geometricPrecision" font-size="12" fill="#c4302b" font-weight="normal" text-anchor="start" textLength="27" lengthAdjust="spacingAndGlyphs" stroke="#c4302b" stroke-width="0.25">146.77</text>
<text transform="translate(197.9,17.90) scale(1,0.780)" x="0" y="0" text-rendering="geometricPrecision" font-size="12" fill="#c4302b" font-weight="normal" text-anchor="start" textLength="22.1" lengthAdjust="spacingAndGlyphs" stroke="#c4302b" stroke-width="0.25">−2.22</text>
<text transform="translate(224.8,17.90) scale(1,0.780)" x="0" y="0" text-rendering="geometricPrecision" font-size="12" fill="#c4302b" font-weight="normal" text-anchor="start" textLength="35.8" lengthAdjust="spacingAndGlyphs" stroke="#c4302b" stroke-width="0.25">(−1.49%)</text>
<rect x="8.7" y="24.1" width="22.7" height="14.5" rx="2" fill="#fff" stroke="#dfe2e9"/>
<path d="M13.3,30.2 L16.05,32.9 L18.8,30.2" fill="none" stroke="#333" stroke-width="1.5" stroke-linecap="round" stroke-linejoin="round"/>
<text transform="translate(23.4,35.10) scale(1,0.791)" x="0" y="0" text-rendering="geometricPrecision" font-size="12" fill="#444" font-weight="normal" text-anchor="start" textLength="4.8" lengthAdjust="spacingAndGlyphs" stroke="#444" stroke-width="0.25">5</text>
<circle cx="652.1" cy="531.6" r="6.8" fill="#f1f3f9"/>
<text transform="translate(649.5,534.30) scale(1,0.754)" x="0" y="0" text-rendering="geometricPrecision" font-size="10" fill="#505050" font-weight="normal" text-anchor="start" textLength="5.6" lengthAdjust="spacingAndGlyphs" stroke="#505050" stroke-width="0.15">A</text>
<g opacity="0.05"><circle cx="550" cy="508" r="15.5" fill="none" stroke="#9aa0a8" stroke-width="3"/><circle cx="550" cy="508" r="8" fill="#9aa0a8"/><text x="582" y="520" font-size="29" font-weight="bold" fill="#9aa0a8" textLength="88" lengthAdjust="spacingAndGlyphs">WikiFX</text></g>
<rect x="0" y="0" width="680" height="1.5" fill="#f1f3f8"/>
</svg>
</body></html>
